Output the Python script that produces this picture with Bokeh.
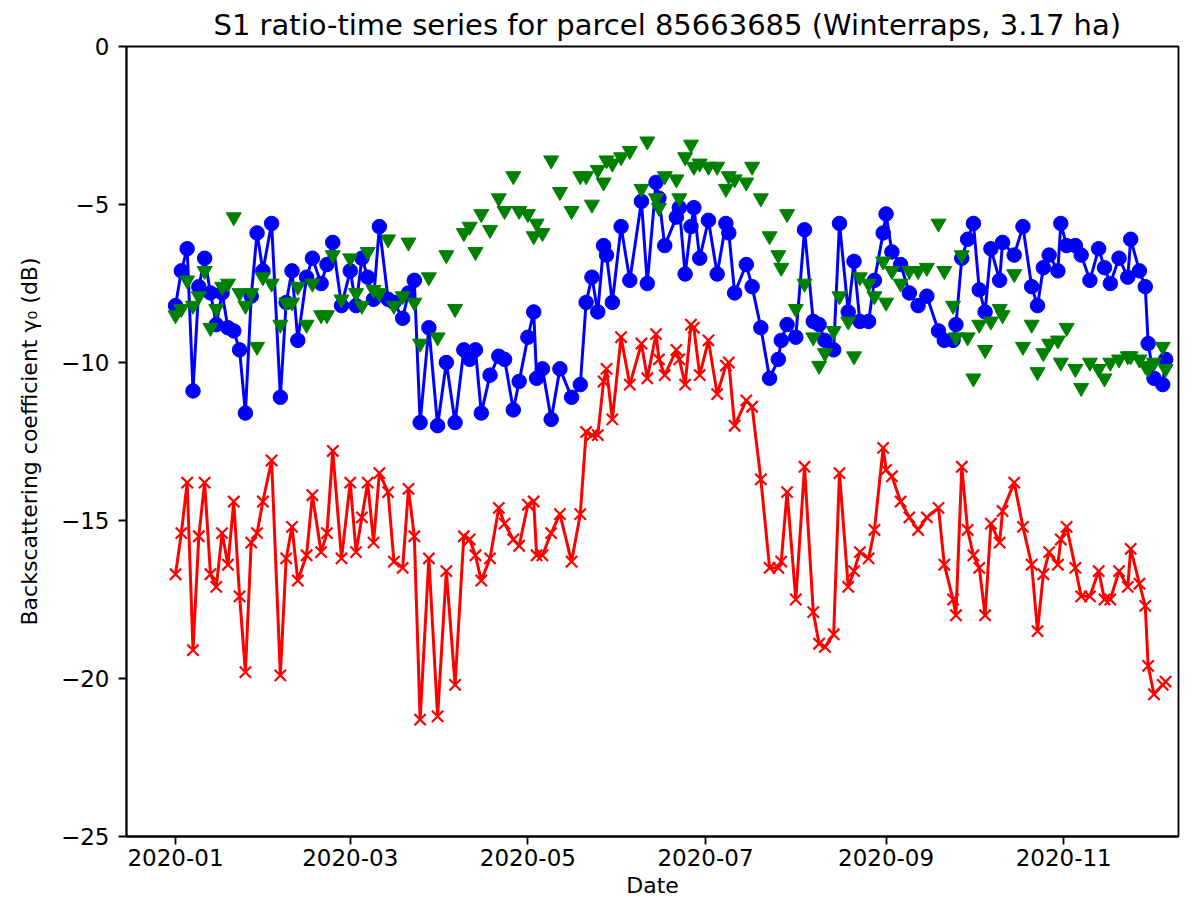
from datetime import datetime
import pandas as pd
from bokeh.plotting import figure
from bokeh.models import ColumnDataSource, Range1d, FixedTicker, CustomJSTickFormatter
from bokeh.embed import file_html
from bokeh.resources import INLINE

# ---- data ----
dates = [
    "2020-01-01", "2020-01-03", "2020-01-05", "2020-01-07", "2020-01-09", "2020-01-11",
    "2020-01-13", "2020-01-15", "2020-01-17", "2020-01-19", "2020-01-21", "2020-01-23",
    "2020-01-25", "2020-01-27", "2020-01-29", "2020-01-31", "2020-02-03", "2020-02-06",
    "2020-02-08", "2020-02-10", "2020-02-12", "2020-02-15", "2020-02-17", "2020-02-20",
    "2020-02-22", "2020-02-24", "2020-02-27", "2020-03-01", "2020-03-03", "2020-03-05",
    "2020-03-07", "2020-03-09", "2020-03-11", "2020-03-14", "2020-03-16", "2020-03-19",
    "2020-03-21", "2020-03-23", "2020-03-25", "2020-03-28", "2020-03-31", "2020-04-03",
    "2020-04-06", "2020-04-09", "2020-04-11", "2020-04-13", "2020-04-15", "2020-04-18",
    "2020-04-21", "2020-04-23", "2020-04-26", "2020-04-28", "2020-05-01", "2020-05-03",
    "2020-05-04", "2020-05-06", "2020-05-09", "2020-05-12", "2020-05-16", "2020-05-19",
    "2020-05-21", "2020-05-23", "2020-05-25", "2020-05-27", "2020-05-28", "2020-05-30",
    "2020-06-02", "2020-06-05", "2020-06-09", "2020-06-11", "2020-06-14", "2020-06-15",
    "2020-06-17", "2020-06-21", "2020-06-22", "2020-06-24", "2020-06-26", "2020-06-27",
    "2020-06-29", "2020-07-02", "2020-07-05", "2020-07-08", "2020-07-09", "2020-07-11",
    "2020-07-15", "2020-07-17", "2020-07-20", "2020-07-23", "2020-07-26", "2020-07-27",
    "2020-07-29", "2020-08-01", "2020-08-04", "2020-08-07", "2020-08-09", "2020-08-11",
    "2020-08-14", "2020-08-16", "2020-08-19", "2020-08-21", "2020-08-23", "2020-08-26",
    "2020-08-28", "2020-08-31", "2020-09-01", "2020-09-03", "2020-09-06", "2020-09-09",
    "2020-09-12", "2020-09-15", "2020-09-19", "2020-09-21", "2020-09-24", "2020-09-25",
    "2020-09-27", "2020-09-29", "2020-10-01", "2020-10-03", "2020-10-05", "2020-10-07",
    "2020-10-10", "2020-10-11", "2020-10-15", "2020-10-18", "2020-10-21", "2020-10-23",
    "2020-10-25", "2020-10-27", "2020-10-30", "2020-10-31", "2020-11-02", "2020-11-05",
    "2020-11-07", "2020-11-10", "2020-11-13", "2020-11-15", "2020-11-17", "2020-11-20",
    "2020-11-23", "2020-11-24", "2020-11-27", "2020-11-29", "2020-11-30", "2020-12-02",
    "2020-12-05", "2020-12-06",
]

# VV backscatter (blue circles)
vv = [
    -8.2, -7.1, -6.4, -10.9, -7.6, -6.7, -7.8, -8.8, -7.8, -8.9, -9.0, -9.6,
    -11.6, -7.9, -5.9, -7.1, -5.6, -11.1, -8.1, -7.1, -9.3, -7.3, -6.7, -7.5,
    -6.9, -6.2, -8.2, -7.1, -8.2, -6.7, -7.3, -8.0, -5.7, -8.0, -8.1, -8.6,
    -7.8, -7.4, -11.9, -8.9, -12.0, -10.0, -11.9, -9.6, -9.9, -9.6, -11.6, -10.4,
    -9.8, -9.9, -11.5, -10.6, -9.2, -8.4, -10.5, -10.2, -11.8, -10.2, -11.1, -10.7,
    -8.1, -7.3, -8.4, -6.3, -6.6, -8.1, -5.7, -7.4, -4.9, -7.5, -4.3, -4.8,
    -6.3, -5.4, -5.1, -7.2, -5.7, -5.1, -6.7, -5.5, -7.2, -5.6, -5.9, -7.8,
    -6.9, -7.6, -8.9, -10.5, -9.9, -9.3, -8.8, -9.2, -5.8, -8.7, -8.8, -9.3,
    -9.6, -5.6, -8.4, -6.8, -8.7, -8.7, -7.4, -5.9, -5.3, -6.5, -6.9, -7.8,
    -8.2, -7.9, -9.0, -9.3, -9.3, -8.8, -6.7, -6.1, -5.6, -7.7, -8.4, -6.4,
    -7.4, -6.2, -6.6, -5.7, -7.6, -8.2, -7.0, -6.6, -7.1, -5.6, -6.3, -6.3,
    -6.6, -7.4, -6.4, -7.0, -7.5, -6.7, -7.3, -6.1, -7.1, -7.6, -9.4, -10.5,
    -10.7, -9.9,
]

# VH backscatter (red crosses)
vh = [
    -16.7, -15.4, -13.8, -19.1, -15.5, -13.8, -16.7, -17.1, -15.4, -16.4, -14.4, -17.4,
    -19.8, -15.7, -15.4, -14.4, -13.1, -19.9, -16.2, -15.2, -16.9, -16.1, -14.2, -16.0,
    -15.4, -12.8, -16.2, -13.8, -16.0, -14.9, -13.8, -15.7, -13.5, -14.1, -16.3, -16.5,
    -14.0, -15.5, -21.3, -16.2, -21.2, -16.6, -20.2, -15.5, -15.6, -16.1, -16.9, -16.2,
    -14.6, -15.1, -15.6, -15.8, -14.5, -14.4, -16.1, -16.1, -15.4, -14.8, -16.3, -14.8,
    -12.2, -12.3, -12.3, -10.6, -10.2, -11.8, -9.2, -10.7, -9.4, -10.5, -9.1, -9.9,
    -10.4, -9.6, -9.9, -10.7, -8.8, -8.9, -10.4, -9.3, -11.0, -10.1, -10.0, -12.0,
    -11.2, -11.4, -13.7, -16.5, -16.5, -16.3, -14.1, -17.5, -13.3, -17.9, -18.9, -19.0,
    -18.6, -13.5, -17.1, -16.6, -16.0, -16.2, -15.3, -12.7, -13.4, -13.6, -14.4, -14.9,
    -15.3, -14.9, -14.6, -16.4, -17.5, -18.0, -13.3, -15.3, -16.1, -16.5, -18.0, -15.1,
    -15.7, -14.7, -13.8, -15.2, -16.4, -18.5, -16.7, -16.0, -16.4, -15.6, -15.2, -16.5,
    -17.4, -17.4, -16.6, -17.5, -17.5, -16.6, -17.1, -15.9, -17.0, -17.7, -19.6, -20.5,
    -20.2, -20.1,
]

# VH/VV ratio (green triangles)
ratio = [
    -8.5, -8.3, -7.4, -8.2, -7.9, -7.1, -8.9, -8.3, -7.6, -7.5, -5.4, -7.8,
    -8.2, -7.8, -9.5, -7.3, -7.5, -8.8, -8.1, -8.1, -7.6, -8.8, -7.5, -8.5,
    -8.5, -6.6, -8.0, -6.7, -7.8, -8.2, -6.5, -7.7, -7.8, -6.1, -8.2, -7.9,
    -6.2, -8.1, -9.4, -7.3, -9.2, -6.6, -8.3, -5.9, -5.7, -6.5, -5.3, -5.8,
    -4.8, -5.2, -4.1, -5.2, -5.3, -6.0, -5.6, -5.9, -3.6, -4.6, -5.2, -4.1,
    -4.1, -5.0, -3.9, -4.3, -3.6, -3.7, -3.5, -3.3, -4.5, -3.0, -4.8, -5.1,
    -4.1, -4.2, -4.8, -3.5, -3.1, -3.8, -3.7, -3.8, -3.8, -4.5, -4.1, -4.2,
    -4.3, -3.8, -4.8, -6.0, -6.6, -7.0, -5.3, -8.3, -7.5, -9.2, -10.1, -9.7,
    -9.0, -7.9, -8.7, -9.8, -7.3, -7.5, -7.9, -6.8, -8.1, -7.1, -7.5, -7.1,
    -7.1, -7.0, -5.6, -7.1, -8.2, -9.2, -6.6, -9.2, -10.5, -8.8, -9.6, -8.7,
    -8.3, -8.5, -7.2, -9.5, -8.8, -10.3, -9.7, -9.4, -9.3, -10.0, -8.9, -10.2,
    -10.8, -10.0, -10.2, -10.5, -10.0, -9.9, -9.8, -9.8, -9.9, -10.1, -10.2, -10.0,
    -9.5, -10.2,
]

x_tick_dates = ["2020-01-01", "2020-03-01", "2020-05-01", "2020-07-01", "2020-09-01", "2020-11-01"]
y_ticks = [-25, -20, -15, -10, -5, 0]

title_text = "S1 ratio-time series for parcel 85663685 (Winterraps, 3.17 ha)"
x_label = "Date"
y_label = "Backscattering coefficient γ₀ (dB)"

FONT = "DejaVu Sans"

src = ColumnDataSource(dict(t=pd.to_datetime(dates), vv=vv, vh=vh, ratio=ratio))

p = figure(
    width=1180, height=900,
    x_axis_type="datetime",
    x_range=Range1d(datetime(2019, 12, 15, 4), datetime(2020, 12, 10, 10)),
    y_range=Range1d(-25, 0),
    output_backend="svg", toolbar_location=None,
    min_border_left=126, min_border_right=2, min_border_top=46, min_border_bottom=62,
    background_fill_color="white", border_fill_color="white",
)

p.title.text = title_text
p.title.align = "left"
p.title.offset = 87
p.title.text_font = FONT
p.title.text_font_size = "29px"
p.title.text_font_style = "normal"
p.title.text_color = "#000000"

p.xgrid.visible = False
p.ygrid.visible = False
p.outline_line_color = "#000000"
p.outline_line_width = 1.8
p.outline_line_alpha = 1.0

tick_ms = [float(v) for v in (pd.to_datetime(x_tick_dates).astype("int64") // 10**6)]
p.xaxis.ticker = FixedTicker(ticks=tick_ms)
p.xaxis.formatter = CustomJSTickFormatter(code="""
    const d = new Date(tick);
    const m = String(d.getUTCMonth() + 1).padStart(2, '0');
    return d.getUTCFullYear() + '-' + m;
""")
p.yaxis.ticker = FixedTicker(ticks=y_ticks)
p.yaxis.formatter = CustomJSTickFormatter(code="""
    return tick < 0 ? '\\u2212' + Math.abs(tick) : String(tick);
""")

for ax in (p.xaxis[0], p.yaxis[0]):
    ax.axis_line_color = "#000000"
    ax.axis_line_width = 1.8
    ax.major_tick_line_color = "#000000"
    ax.major_tick_line_width = 1.8
    ax.major_tick_out = 8
    ax.major_tick_in = 0
    ax.minor_tick_line_color = None
    ax.major_label_text_font = FONT
    ax.major_label_text_font_size = "23px"
    ax.major_label_text_color = "#000000"
    ax.axis_label_text_font = FONT
    ax.axis_label_text_font_size = "22px"
    ax.axis_label_text_font_style = "normal"
    ax.axis_label_text_color = "#000000"

p.xaxis.axis_label = x_label
p.yaxis.axis_label = y_label
p.xaxis.major_label_standoff = 4
p.xaxis.axis_label_standoff = 4
p.yaxis.major_label_standoff = 9
p.yaxis.axis_label_standoff = 16

# VV: blue line + circles
p.line("t", "vv", source=src, line_color="#0000ff", line_width=3)
p.scatter("t", "vv", source=src, marker="circle", size=14.5,
          fill_color="#0000ff", line_color="#0000ff")
# VH: red line + crosses
p.line("t", "vh", source=src, line_color="#ff0000", line_width=3)
p.scatter("t", "vh", source=src, marker="x", size=16,
          line_color="#ff0000", line_width=2.2)
# ratio: green downward triangles
p.scatter("t", "ratio", source=src, marker="inverted_triangle", size=15,
          fill_color="#008000", line_color="#008000")

open("out.html", "w").write(file_html(p, INLINE))
